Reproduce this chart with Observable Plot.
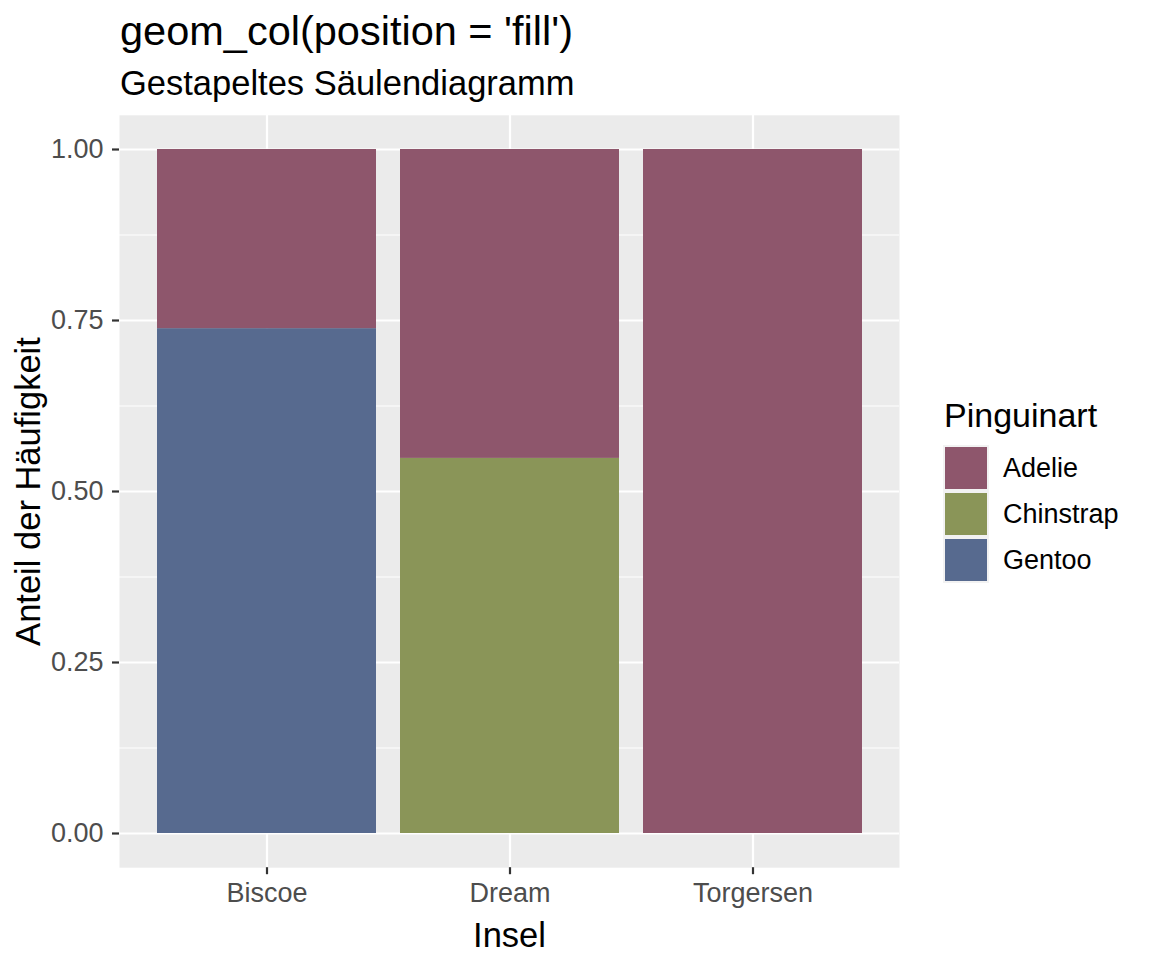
<!DOCTYPE html>
<html>
<head>
<meta charset="utf-8">
<script src="https://cdn.jsdelivr.net/npm/d3@7"></script>
<script src="https://cdn.jsdelivr.net/npm/@observablehq/plot@0.6"></script>
<style>
  html, body { margin: 0; padding: 0; background: #ffffff; overflow: hidden; }
  #page { position: relative; width: 1152px; height: 960px; font-family: "Liberation Sans", Arial, Helvetica, sans-serif; }
  .abs { position: absolute; white-space: nowrap; line-height: 1; color: #000; }
  #title { left: 120px; top: 10px; font-size: 41.5px; }
  #subtitle { left: 120px; top: 66px; font-size: 34.5px; }
  #chart { position: absolute; left: 0; top: 110px; }
  #legend-title { left: 944px; top: 398px; font-size: 34px; }
  .key { position: absolute; left: 942.5px; width: 46px; height: 46px; background: #F2F2F2; }
  .key div { position: absolute; left: 2px; top: 2px; width: 42px; height: 42px; }
  .key-label { position: absolute; left: 1003px; font-size: 27px; line-height: 46px; height: 46px; color: #000; }
  #chart g[aria-label="y-axis tick label"], #chart g[aria-label="x-axis tick label"] { fill: #4D4D4D; }
  #chart g[aria-label="y-axis tick"], #chart g[aria-label="x-axis tick"] { stroke: #333333; stroke-width: 2.2px; }
  #chart g[aria-label="y-axis label"], #chart g[aria-label="x-axis label"] { font-size: 34.5px; fill: #000; }
</style>
</head>
<body>
<div id="page">
  <div id="title" class="abs">geom_col(position = 'fill')</div>
  <div id="subtitle" class="abs">Gestapeltes Säulendiagramm</div>
  <div id="chart"></div>
  <div id="legend-title" class="abs">Pinguinart</div>
  <div id="legend"></div>
</div>
<script>
// ---- data ----
const islands = ["Biscoe", "Dream", "Torgersen"];
const species = ["Adelie", "Chinstrap", "Gentoo"];
const adelieCounts = [44, 56, 52];
const chinstrapCounts = [0, 68, 0];
const gentooCounts = [124, 0, 0];
const speciesColors = ["#8E566C", "#8A9558", "#576A8F"];
const yTicks = [0, 0.25, 0.5, 0.75, 1];
const yMinorTicks = [0.125, 0.375, 0.625, 0.875];
const xLabel = "Insel";
const yLabel = "Anteil der Häufigkeit";

// stacking order bottom -> top (ggplot stacks last factor level at the bottom)
const stackOrder = ["Gentoo", "Chinstrap", "Adelie"];
const countsBySpecies = { Adelie: adelieCounts, Chinstrap: chinstrapCounts, Gentoo: gentooCounts };
const rows = [];
for (const sp of stackOrder) {
  islands.forEach((isl, i) => {
    const c = countsBySpecies[sp][i];
    if (c > 0) rows.push({ island: isl, species: sp, count: c });
  });
}

const chart = Plot.plot({
  width: 1152,
  height: 850,
  marginLeft: 119,
  marginRight: 253,
  marginTop: 4.8,
  marginBottom: 92.8,
  style: { fontFamily: "'Liberation Sans', Arial, Helvetica, sans-serif", fontSize: "27px", background: "transparent", overflow: "visible" },
  x: { domain: islands, paddingInner: 0.1, paddingOuter: 0.15, align: 0.5 },
  y: { domain: [-0.05, 1.05] },
  color: { domain: species, range: speciesColors },
  marks: [
    Plot.frame({ fill: "#EBEBEB", stroke: "none" }),
    Plot.gridY(yMinorTicks, { stroke: "#ffffff", strokeOpacity: 1, strokeWidth: 1.1 }),
    Plot.gridY(yTicks, { stroke: "#ffffff", strokeOpacity: 1, strokeWidth: 2.2 }),
    Plot.gridX(islands, { stroke: "#ffffff", strokeOpacity: 1, strokeWidth: 2.2 }),
    Plot.barY(rows, Plot.stackY({ x: "island", y: "count", fill: "species", order: stackOrder, offset: "normalize" })),
    Plot.axisY(yTicks, { tickFormat: d3.format(".2f"), tickSize: 7, tickPadding: 9, label: yLabel, labelAnchor: "center", labelOffset: 104, labelArrow: "none" }),
    Plot.axisX({ tickSize: 7, tickPadding: 8, label: xLabel, labelAnchor: "center", labelOffset: 79, labelArrow: "none" })
  ]
});
document.getElementById("chart").appendChild(chart);

// legend (ggplot-style keys)
const legend = document.getElementById("legend");
const keyTop = 444.5;
species.forEach((sp, i) => {
  const key = document.createElement("div");
  key.className = "key";
  key.style.top = (keyTop + i * 46) + "px";
  const inner = document.createElement("div");
  inner.style.background = speciesColors[i];
  key.appendChild(inner);
  legend.appendChild(key);
  const lab = document.createElement("div");
  lab.className = "key-label";
  lab.style.top = (keyTop + i * 46) + "px";
  lab.textContent = sp;
  legend.appendChild(lab);
});
</script>
</body>
</html>
